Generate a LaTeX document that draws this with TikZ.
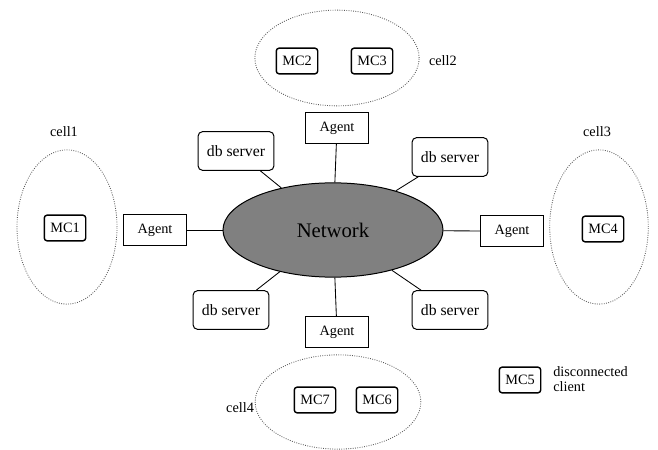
\documentclass[tikz,border=0pt]{standalone}
\usepackage{fontspec}
\setmainfont{Liberation Serif}
\usetikzlibrary{shapes.geometric}

\begin{document}
\begin{tikzpicture}[x=0.7pt, y=-0.7pt,
		agentbox/.style={draw, line width=0.7pt, minimum width=44pt, minimum height=22pt, inner sep=1pt},
		dbbox/.style={draw, line width=0.7pt, rounded corners=3pt, minimum width=53pt, minimum height=27pt, inner sep=1pt, font=\fontsize{11}{12}\selectfont},
		mcbox/.style={draw, line width=1pt, rounded corners=2pt, minimum width=29pt, minimum height=18pt, inner sep=1pt},
		cell/.style={ellipse, draw=black!65, densely dotted, line width=0.6pt, inner sep=0pt},
		link/.style={draw, line width=0.6pt}]
				    		\useasboundingbox (0, 0) rectangle (658, 450);
				    		% network in the middle
				    		\node[ellipse, draw, fill=black!50, line width=0.7pt, minimum width=154pt, minimum height=66pt, font=\fontsize{14.5}{16}\selectfont] (net) at (333, 230) {Network};
				    		% agents
				    		\node[agentbox] (agentT) at (337, 128) {Agent};
				    		\node[agentbox] (agentB) at (337, 332) {Agent};
				    		\node[agentbox] (agentL) at (155, 230) {Agent};
				    		\node[agentbox] (agentR) at (512, 231) {Agent};
				    		% db servers
				    		\node[dbbox] (dbTL) at (236, 151) {db server};
				    		\node[dbbox] (dbTR) at (450, 157) {db server};
				    		\node[dbbox] (dbBL) at (231, 310) {db server};
				    		\node[dbbox] (dbBR) at (450, 310) {db server};
				    		\draw[link] (agentT) -- (net);
				    		\draw[link] (agentB) -- (net);
				    		\draw[link] (agentL) -- (net);
				    		\draw[link] (agentR.west) -- (net);
				    		\draw[link] (dbTL) -- (net);
				    		\draw[link] (dbTR) -- (net);
				    		\draw[link] (dbBL) -- (net);
				    		\draw[link] (dbBR) -- (net);
				    		% cells
				    		\node[cell, minimum width=115pt, minimum height=67pt] (cell2) at (337, 58) {};
				    		\node[cell, minimum width=70pt, minimum height=108pt] (cell1) at (67, 227) {};
				    		\node[cell, minimum width=69pt, minimum height=108pt] (cell3) at (599, 227) {};
				    		\node[cell, minimum width=116pt, minimum height=66pt] (cell4) at (338, 402) {};
				    		\node[anchor=west] (lab2) at (424, 61) {cell2};
				    		\node (lab1) at (64, 132) {cell1};
				    		\node (lab3) at (597, 132) {cell3};
				    		\node[anchor=east] (lab4) at (259, 408) {cell4};
				    		% mobile clients
				    		\node[mcbox] (mc1) at (65, 228) {MC1};
				    		\node[mcbox] (mc2) at (297, 61) {MC2};
				    		\node[mcbox] (mc3) at (372, 61) {MC3};
				    		\node[mcbox] (mc4) at (603, 229) {MC4};
				    		\node[mcbox] (mc7) at (315, 400) {MC7};
				    		\node[mcbox] (mc6) at (377, 400) {MC6};
				    		\node[mcbox] (mc5) at (520, 380) {MC5};
				    		\node[anchor=north west, align=left, inner sep=0pt, font=\fontsize{10}{11}\selectfont] (disc) at (553, 366) {disconnected\\client};
				    	\end{tikzpicture}
\end{document}
